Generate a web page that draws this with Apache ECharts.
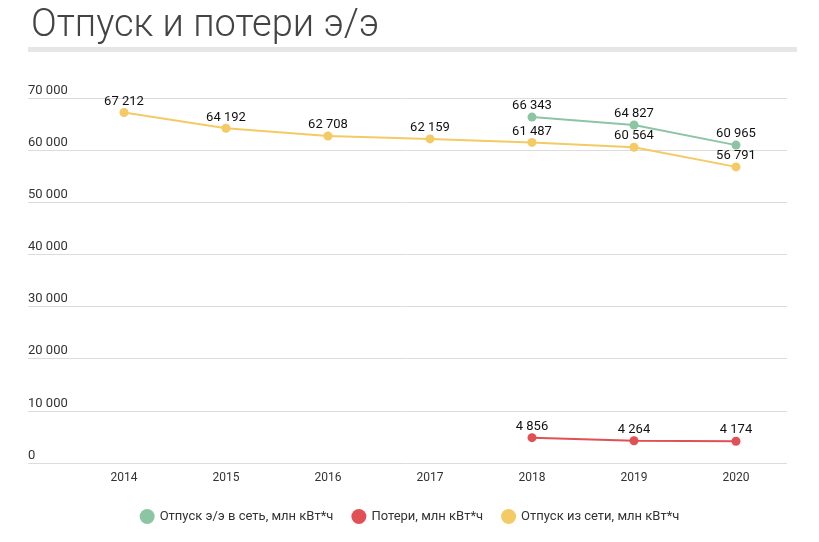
<!DOCTYPE html>
<html><head><meta charset="utf-8">
<script src="https://cdn.jsdelivr.net/npm/echarts@6/dist/echarts.min.js"></script>
<style>html,body{margin:0;padding:0;background:#fff}#c{width:819px;height:542px}</style>
</head><body><div id="c"></div>
<script>
const years = [2014, 2015, 2016, 2017, 2018, 2019, 2020];
const seriesNames = ['Отпуск э/э в сеть, млн кВт*ч', 'Потери, млн кВт*ч', 'Отпуск из сети, млн кВт*ч'];
const otpuskVSet = [null, null, null, null, 66343, 64827, 60965];
const poteri = [null, null, null, null, 4856, 4264, 4174];
const otpuskIzSeti = [67212, 64192, 62708, 62159, 61487, 60564, 56791];
const yTicks = [0, 10000, 20000, 30000, 40000, 50000, 60000, 70000];
const colors = ['#8cc5a4', '#e05055', '#f3ca64'];

const fmt = v => String(v).replace(/\B(?=(\d{3})+(?!\d))/g, ' ');
const pairs = arr => years.map((y, i) => [y, arr[i]]).filter(p => p[1] != null);

const chart = echarts.init(document.getElementById('c'));
const mk = (name, arr, color) => ({
  name, type: 'line', data: pairs(arr), color,
  symbol: 'circle', symbolSize: 9,
  lineStyle: { width: 2, color },
  itemStyle: { color },
  label: { show: true, position: 'top', distance: 0, color: '#111', fontSize: 13, fontFamily: 'Roboto',
    formatter: p => fmt(p.value[1]) },
  emphasis: { disabled: true }
});
chart.setOption({
  animation: false,
  textStyle: { fontFamily: 'Roboto' },
  title: { text: 'Отпуск и потери э/э', left: 26, top: 2,
    textStyle: { fontSize: 38, fontWeight: 300, color: '#444', fontFamily: 'Roboto' } },
  graphic: [{ type: 'rect', shape: { x: 28, y: 47, width: 769, height: 5 }, style: { fill: '#e6e6e6' } }],
  legend: { bottom: 13, left: 'center', icon: 'circle', itemWidth: 15, itemHeight: 15, itemGap: 18,
    textStyle: { fontSize: 13, color: '#333', fontFamily: 'Roboto' }, data: seriesNames },
  grid: { left: 28, right: 32, top: 98, bottom: 79 },
  xAxis: { type: 'value', min: 2014 - 96 / 102, max: 2020.5,
    axisLine: { show: false }, axisTick: { show: false }, splitLine: { show: false },
    axisLabel: { customValues: years, color: '#333', fontSize: 12, margin: 9, formatter: v => String(Math.round(v)) } },
  yAxis: { type: 'value', min: 0, max: 70000, interval: 10000,
    axisLine: { show: false }, axisTick: { show: false },
    splitLine: { lineStyle: { color: '#dcdcdc', width: 1 } },
    axisLabel: { inside: true, margin: 0, align: 'left', verticalAlign: 'bottom', padding: [0, 0, 1, 0],
      color: '#333', fontSize: 13, formatter: v => yTicks.includes(v) ? fmt(v) : '' } },
  series: [
    mk(seriesNames[0], otpuskVSet, colors[0]),
    mk(seriesNames[1], poteri, colors[1]),
    mk(seriesNames[2], otpuskIzSeti, colors[2])
  ]
});
</script></body></html>
